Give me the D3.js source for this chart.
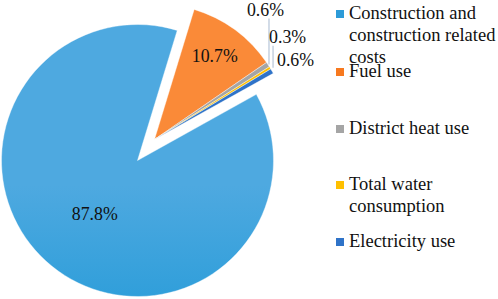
<!DOCTYPE html>
<html>
  <head>
    <meta charset="utf-8">
    <title>Pie</title>
  </head>
  <body style="margin:0">
    <script src="https://d3js.org/d3.v7.min.js"></script>
    <svg id="chart" width="498" height="299" font-family="Liberation Serif"></svg>
    <script>
      // data
      const categories = ['Construction and construction related costs', 'Fuel use', 'District heat use', 'Total water consumption', 'Electricity use']
      const values = [87.8, 10.7, 0.6, 0.3, 0.6]
      const valueLabels = ['87.8%', '10.7%', '0.6%', '0.3%', '0.6%']
      const legendLines = [['Construction and', 'construction related', 'costs'], ['Fuel use'], ['District heat use'], ['Total water', 'consumption'], ['Electricity use']]

      const colors = ['#2d9bd8', '#f7791f', '#a5a5a5', '#ffc000', '#2f73c8']

      const cx = 137.5, cy = 160.5, r = 136
      const startDeg = 60.9
      const explodeDist = 27

      const svg = d3.select('#chart')

      // gradients like excel's default fill
      const defs = svg.append('defs')
      const grad = (id, top, bottom) => {
        const g = defs.append('linearGradient').attr('id', id)
          .attr('gradientUnits', 'userSpaceOnUse')
          .attr('x1', 0).attr('y1', cy - r).attr('x2', 0).attr('y2', cy + r)
        g.append('stop').attr('offset', '0%').attr('stop-color', top)
        g.append('stop').attr('offset', '100%').attr('stop-color', bottom)
      }
      grad('gBlue', '#4ea9e0', '#0690d2')
      grad('gOrange', '#fa8a38', '#f06a12')
      const fills = ['url(#gBlue)', 'url(#gOrange)', colors[2], colors[3], colors[4]]

      const pie = d3.pie().sort(null).value(d => d)
        .startAngle(startDeg * Math.PI / 180)
        .endAngle(startDeg * Math.PI / 180 + 2 * Math.PI)
      const arcs = pie(values)
      const arc = d3.arc().innerRadius(0).outerRadius(r)

      // every slice but the first is pulled out together, along the group's middle
      const grpMid = (arcs[1].startAngle + arcs[arcs.length - 1].endAngle) / 2
      const shift = (d, i) => i === 0 ? [0, 0]
        : [Math.sin(grpMid) * explodeDist, -Math.cos(grpMid) * explodeDist]

      const g = svg.append('g').attr('transform', `translate(${cx},${cy})`)
      g.selectAll('path.slice')
        .data(arcs)
        .join('path')
          .attr('class', 'slice')
          .attr('d', arc)
          .attr('transform', (d, i) => `translate(${shift(d, i)})`)
          .attr('fill', (d, i) => fills[i])
          .attr('stroke', '#fff')
          .attr('stroke-width', 0.4)

      // outer tip of each slice (after explode)
      const tip = (d, i) => {
        const a = (d.startAngle + d.endAngle) / 2
        const s = shift(d, i)
        return [Math.sin(a) * r + s[0], -Math.cos(a) * r + s[1]]
      }

      const labelPos = [
        d => { const c = arc.centroid(d); return [c[0], c[1] + 7] },
        (d, i) => { const c = arc.centroid(d), s = shift(d, i); return [c[0] * 1.5 + s[0], c[1] * 1.5 + s[1] + 5] },
        (d, i) => { const t = tip(d, i); return [t[0] - 21, t[1] - 49] },
        (d, i) => { const t = tip(d, i); return [t[0] - 1, t[1] - 25] },
        (d, i) => { const t = tip(d, i); return [t[0] + 5, t[1] - 5] }
      ]

      const leaderIdx = [2, 3]
      g.selectAll('line.leader')
        .data(leaderIdx)
        .join('line')
          .attr('class', 'leader')
          .attr('x1', i => tip(arcs[i], i)[0] + (i === 3 ? 3 : 1))
          .attr('x2', i => tip(arcs[i], i)[0] + (i === 3 ? 3 : 1))
          .attr('y1', i => labelPos[i](arcs[i], i)[1] + 3)
          .attr('y2', i => tip(arcs[i], i)[1])
          .attr('stroke', '#bccadb')
          .attr('stroke-width', 1.3)

      g.selectAll('text.val')
        .data(arcs)
        .join('text')
          .attr('class', 'val')
          .attr('x', (d, i) => labelPos[i](d, i)[0])
          .attr('y', (d, i) => labelPos[i](d, i)[1])
          .attr('text-anchor', (d, i) => i < 2 ? 'middle' : 'start')
          .attr('font-family', 'Liberation Serif')
          .attr('font-size', 17.8)
          .attr('fill', '#111')
          .text((d, i) => valueLabels[i])

      // legend
      const legendY = [14, 72, 129, 185, 242]
      const lg = svg.append('g').attr('transform', 'translate(336,0)')
      const item = lg.selectAll('g.item')
        .data(categories)
        .join('g')
          .attr('class', 'item')
          .attr('transform', (d, i) => `translate(0,${legendY[i]})`)
      item.append('rect')
        .attr('x', 0).attr('y', -4)
        .attr('width', 8).attr('height', 8)
        .attr('fill', (d, i) => colors[i])
      item.append('text')
        .attr('x', 13)
        .attr('y', 5)
        .attr('font-family', 'Liberation Serif')
        .attr('font-size', 18.5)
        .attr('fill', '#111')
        .selectAll('tspan')
        .data((d, i) => legendLines[i])
        .join('tspan')
          .attr('x', 13)
          .attr('dy', (d, j) => j === 0 ? 0 : 22)
          .text(d => d)
    </script>
  </body>
</html>
